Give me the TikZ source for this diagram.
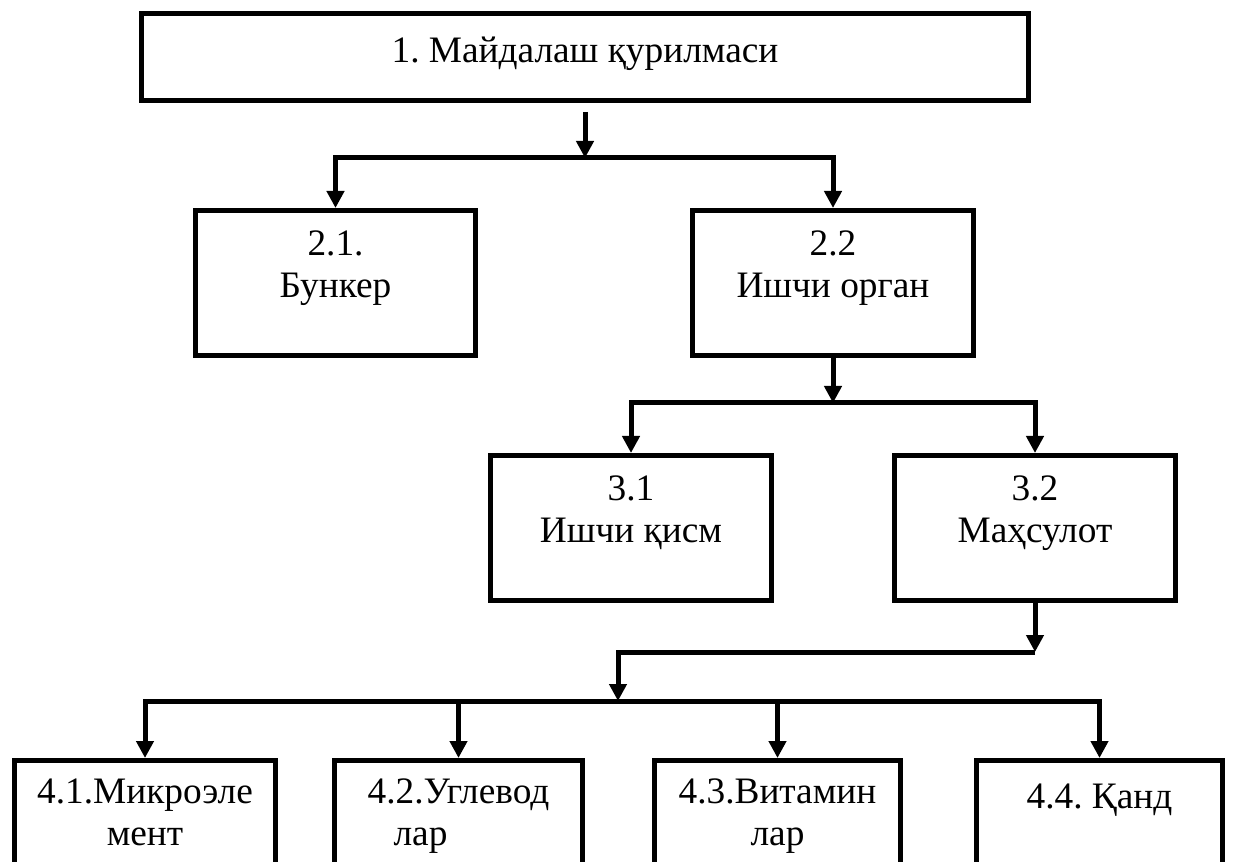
\documentclass[tikz,border=0pt]{standalone}
\usepackage{fontspec}
\setmainfont{Liberation Serif}
\usetikzlibrary{positioning,arrows.meta}

\tikzset{
  unitbox/.style={draw, line width=4pt, inner sep=0pt},
  boxtext/.style={anchor=north, inner sep=0pt, align=center, font=\fontsize{28}{32}\selectfont\frenchspacing},
  link/.style={line width=3.75pt, -{Triangle[length=12.75pt,width=12.75pt]}}
}

\begin{document}
\begin{tikzpicture}[x=0.75pt,y=0.75pt,yscale=-1,xscale=1]
\useasboundingbox (0,0) rectangle (1235,862);
\clip (0,0) rectangle (1235,862);

%Blocks
\node[unitbox, minimum width=665pt, minimum height=65pt] (top) at (585,57) {};
\node[unitbox, minimum width=209.75pt, minimum height=108.5pt] (b21) at (335.5,283) {};
\node[unitbox, minimum width=210.5pt, minimum height=108.5pt] (b22) at (833,283) {};
\node[unitbox, minimum width=210.5pt, minimum height=108.5pt] (b31) at (631,528) {};
\node[unitbox, minimum width=210.5pt, minimum height=108.5pt] (b32) at (1035,528) {};
\node[unitbox, minimum width=195.5pt, minimum height=95pt] (b41) at (145,824) {};
\node[unitbox, minimum width=185.75pt, minimum height=95pt] (b42) at (458.5,824) {};
\node[unitbox, minimum width=184.25pt, minimum height=95pt] (b43) at (777.5,824) {};
\node[unitbox, minimum width=184.25pt, minimum height=95pt] (b44) at (1099.5,824) {};

% Text Nodes
\node[boxtext, below=16pt of top.north] (t1) {\strut 1. Майдалаш қурилмаси};
\node[boxtext, below=12.85pt of b21.north] (t21) {\strut 2.1.\\Бункер};
\node[boxtext, below=12.85pt of b22.north] (t22) {\strut 2.2\\Ишчи орган};
\node[boxtext, below=12.85pt of b31.north] (t31) {\strut 3.1\\Ишчи қисм};
\node[boxtext, below=12.85pt of b32.north] (t32) {\strut 3.2\\Маҳсулот};
\node[boxtext, below=11.35pt of b41.north] (t41) {\strut 4.1.Микроэле\\мент};
\node[boxtext, below=11.35pt of b42.north] (t42) {\strut 4.2.Углевод\\лар\hspace*{57pt}};
\node[boxtext, below=11.35pt of b43.north] (t43) {\strut 4.3.Витамин\\лар};
\node[boxtext, below=15.1pt of b44.north] (t44) {\strut 4.4. Қанд};

%Branch points
\coordinate[below=6.75pt of top.south] (t0);
\coordinate[below=41.25pt of top.south] (s1);
\coordinate[below=33.75pt of b22.south] (s2);
\coordinate[below=36.75pt of b32.south] (s3);
\coordinate (s4) at (618,701);

%Arrows
\draw[link] (t0) -- (s1);
\draw[link] (s1) -| (b21);
\draw[link] (s1) -| (b22);
\draw[link] (b22) -- (s2);
\draw[link] (s2) -| (b31);
\draw[link] (s2) -| (b32);
\draw[link] (b32) -- (s3);
\draw[link] (s3) -| (s4);
\draw[link] (s4) -| (b41);
\draw[link] (s4) -| (b42);
\draw[link] (s4) -| (b43);
\draw[link] (s4) -| (b44);

\end{tikzpicture}
\end{document}
